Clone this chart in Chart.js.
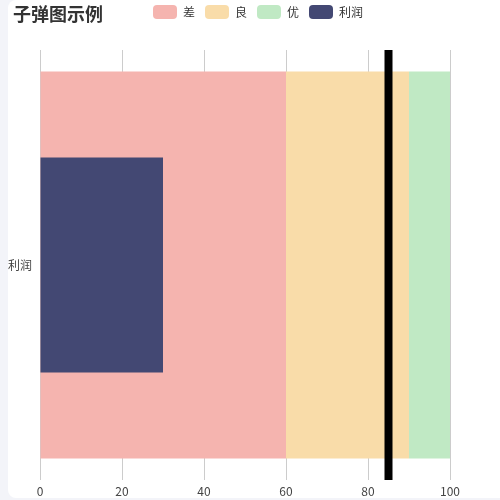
<!DOCTYPE html>
<html>
<head>
<meta charset="utf-8">
<script src="https://cdn.jsdelivr.net/npm/chart.js@4"></script>
<style>
  html, body { margin: 0; padding: 0; background: #f3f4f9; overflow: hidden; }
  #card { position: absolute; left: 8px; top: 0; width: 500px; height: 498px; background: #fff; border-radius: 8px; }
  #title { position: absolute; left: 5px; top: 4px; font: bold 18px/18px "Noto Sans CJK SC", sans-serif; color: #333; }
  #wrap { position: absolute; left: 0; top: 0; width: 500px; height: 498px; }
</style>
</head>
<body>
<div id="card">
  <div id="wrap"><canvas id="myChart"></canvas></div>
  <div id="title">子弹图示例</div>
</div>
<script>
//////////////// DATA /////////////////////////////////
var categories = ['利润'];
var rangeNames = ['差', '良', '优'];
var rangeStarts = [0, 60, 90];
var rangeEnds = [60, 90, 100];
var rangeColors = ['#f5b4af', '#f9dca9', '#c0e9c4'];
var profitValues = [30];
var targetValues = [85];
var xTicks = [0, 20, 40, 60, 80, 100];

//////////////// DATASETS /////////////////////////////////
var datasets = [];
for (var i = 0; i < rangeNames.length; i++) {
  datasets.push({
    label: rangeNames[i],
    data: [[rangeStarts[i], rangeEnds[i]]],
    backgroundColor: rangeColors[i],
    barPercentage: 0.9,
    categoryPercentage: 1,
    grouped: false,
    order: 3
  });
}
datasets.push({
  label: '利润',
  data: profitValues.map(function(v) { return [0, v]; }),
  backgroundColor: '#434873',
  barPercentage: 0.5,
  categoryPercentage: 1,
  grouped: false,
  order: 1
});

// target marker, drawn through the x scale
var targetLine = {
  id: 'targetLine',
  afterDatasetsDraw: function(chart) {
    var ctx = chart.ctx;
    var area = chart.chartArea;
    ctx.save();
    ctx.strokeStyle = '#000';
    ctx.lineWidth = 8;
    targetValues.forEach(function(t) {
      var x = chart.scales.x.getPixelForValue(t);
      ctx.beginPath();
      ctx.moveTo(x, area.top);
      ctx.lineTo(x, area.bottom);
      ctx.stroke();
    });
    ctx.restore();
  }
};

// leave some room under the legend, and center it on the whole canvas
var legendGap = {
  id: 'legendGap',
  beforeInit: function(chart) {
    var fit = chart.legend.fit;
    chart.legend.fit = function() {
      fit.bind(chart.legend)();
      this.height += 21;
    };
  },
  afterLayout: function(chart) {
    chart.legend.right = chart.width;
    chart.legend.width = chart.legend.right - chart.legend.left;
  }
};

Chart.defaults.font.family = '"Noto Sans CJK SC", sans-serif';
Chart.defaults.color = '#444';

var ctx = document.getElementById('myChart').getContext('2d');
var chart = new Chart(ctx, {
  type: 'bar',
  data: { labels: categories, datasets: datasets },
  plugins: [targetLine, legendGap],
  options: {
    indexAxis: 'y',
    responsive: true,
    maintainAspectRatio: false,
    animation: false,
    layout: { padding: { left: 0, right: 58, top: -5, bottom: 0 } },
    plugins: {
      legend: {
        position: 'top',
        labels: {
          boxWidth: 24,
          boxHeight: 14,
          useBorderRadius: true,
          borderRadius: 4,
          padding: 10,
          color: '#333',
          font: { size: 12 },
          sort: function(a, b) { return a.datasetIndex - b.datasetIndex; }
        }
      },
      tooltip: { enabled: false }
    },
    scales: {
      x: {
        min: 0,
        max: 100,
        afterBuildTicks: function(axis) {
          axis.ticks = xTicks.map(function(v) { return { value: v }; });
        },
        afterFit: function(axis) { axis.height = 18; },
        grid: { color: '#cccccc', drawTicks: false },
        border: { display: false },
        ticks: { padding: 4, color: '#444', font: { size: 12 } }
      },
      y: {
        afterFit: function(axis) { axis.width = 32; },
        grid: { display: false, drawTicks: false },
        border: { display: false },
        ticks: { padding: 8, color: '#444', font: { size: 12 } }
      }
    }
  }
});
</script>
</body>
</html>
